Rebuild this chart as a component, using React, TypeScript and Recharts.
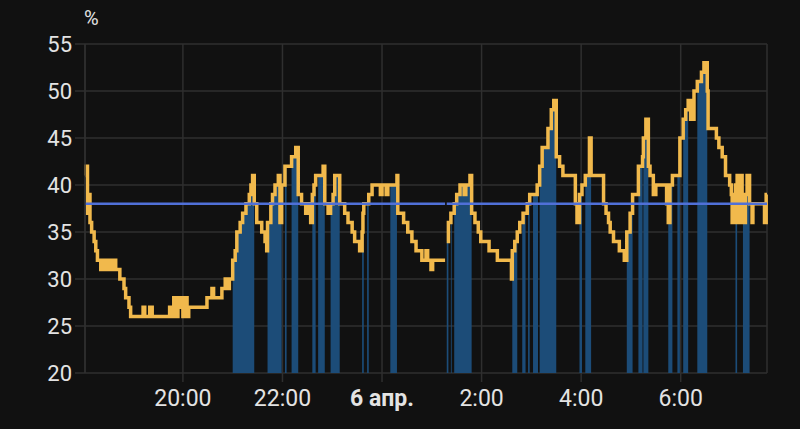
import {
  ComposedChart,
  Line,
  Area,
  XAxis,
  YAxis,
  CartesianGrid,
} from "recharts";

// humidity readings, 5 -> 6 April (times after midnight belong to the 6th)
const times = [
  "18:02", "18:03", "18:05", "18:07", "18:08", "18:10", "18:13", "18:15", "18:17", "18:21",
  "18:24", "18:27", "18:30", "18:33", "18:37", "18:39", "18:44", "18:49", "18:51", "18:55",
  "18:57", "19:12", "19:14", "19:20", "19:23", "19:44", "19:47", "19:49", "19:52", "19:54",
  "19:58", "20:00", "20:02", "20:05", "20:07", "20:29", "20:35", "20:37", "20:47", "20:51",
  "20:53", "20:56", "21:00", "21:03", "21:05", "21:09", "21:12", "21:16", "21:20", "21:22",
  "21:24", "21:26", "21:29", "21:35", "21:39", "21:41", "21:42", "21:46", "21:48", "21:51",
  "21:55", "21:57", "21:59", "22:03", "22:05", "22:11", "22:16", "22:19", "22:23", "22:28",
  "22:32", "22:34", "22:36", "22:38", "22:40", "22:43", "22:49", "22:51", "22:55", "22:58",
  "23:01", "23:03", "23:09", "23:15", "23:19", "23:24", "23:27", "23:33", "23:36", "23:37",
  "23:38", "23:42", "23:44", "23:48", "23:58", "00:00", "00:05", "00:07", "00:10", "00:18",
  "00:19", "00:26", "00:31", "00:36", "00:41", "00:48", "00:53", "00:55", "00:59", "01:01",
  "01:16", "01:17", "01:18", "01:20", "01:23", "01:24", "01:27", "01:30", "01:34", "01:39",
  "01:41", "01:46", "01:48", "01:52", "01:56", "01:59", "02:09", "02:19", "02:36", "02:37",
  "02:40", "02:43", "02:46", "02:49", "02:50", "02:53", "02:55", "02:56", "02:58", "03:02",
  "03:07", "03:08", "03:10", "03:13", "03:20", "03:24", "03:27", "03:30", "03:34", "03:38",
  "03:53", "03:55", "03:58", "04:01", "04:05", "04:10", "04:12", "04:27", "04:30", "04:33",
  "04:35", "04:39", "04:46", "04:52", "04:55", "04:59", "05:02", "05:09", "05:14", "05:15",
  "05:18", "05:21", "05:23", "05:27", "05:30", "05:43", "05:45", "05:47", "05:50", "05:56",
  "05:59", "06:03", "06:06", "06:09", "06:12", "06:16", "06:20", "06:25", "06:28", "06:32",
  "06:33", "06:43", "06:46", "06:50", "06:54", "06:59", "07:01", "07:02", "07:05", "07:06",
  "07:08", "07:09", "07:12", "07:14", "07:15", "07:18", "07:20", "07:23", "07:26", "07:27",
  "07:41", "07:43", "07:44",
];

const humidity: (number | null)[] = [
  41, 42, 37, 39, 36, 35, 34, 33, 32, 31,
  32, 31, 32, 31, 32, 31, 30, 29, 28, 27,
  26, 27, 26, 27, 26, 27, 26, 28, 26, 28,
  27, 26, 28, 26, 27, 28, 29, 28, 29, 30,
  29, 30, 32, 33, 35, 36, 37, 38, 39, 40,
  41, 38, 36, 35, 34, 33, 36, 38, 39, 40,
  41, 36, 40, 42, 42, 43, 44, 39, 38, 37,
  38, 36, 39, 40, 41, 41, 42, 38, 37, 38,
  39, 41, 38, 37, 36, 35, 34, 33, 35, 37,
  38, 38, 39, 40, 39, 40, 39, 40, 40, 41,
  37, 36, 35, 34, 33, 32, 33, 32, 31, 32,
  32, null, 34, 36, 37, 37, 38, 39, 40, 39,
  40, 41, 37, 36, 35, 34, 33, 32, 30, 33,
  34, 35, 36, 36, 37, 37, 38, 38, 39, 39,
  40, 40, 42, 44, 46, 48, 49, 43, 42, 41,
  38, 36, 39, 40, 41, 45, 41, 38, 37, 36,
  35, 34, 33, 32, 35, 37, 39, 42, 43, 45,
  47, 42, 41, 39, 40, 38, 36, 40, 41, 41,
  45, 47, 48, 49, 47, 50, 51, 52, 53, 50,
  46, 45, 44, 43, 41, 40, 39, 36, 39, 40,
  41, 36, 41, 38, 36, 39, 41, 38, 36, 38,
  36, 39, 39,
];

const targetHumidity = 38;

// periods when the humidifier was running (start, end)
const humidifyingPeriods: [string, string][] = [
  ["21:00", "21:26"], ["21:42", "21:59"], ["22:03", "22:05"], ["22:11", "22:19"],
  ["22:36", "22:40"], ["22:43", "22:51"], ["22:58", "23:09"], ["23:36", "23:38"],
  ["23:42", "23:44"], ["00:10", "00:18"], ["01:18", "01:20"], ["01:23", "01:24"],
  ["01:27", "01:48"], ["02:37", "02:43"], ["02:49", "02:53"], ["02:56", "02:58"],
  ["03:02", "03:08"], ["03:10", "03:30"], ["03:58", "04:01"], ["04:05", "04:12"],
  ["04:55", "05:02"], ["05:09", "05:14"], ["05:15", "05:21"], ["05:45", "05:50"],
  ["05:56", "05:59"], ["06:03", "06:09"], ["06:20", "06:32"], ["07:06", "07:08"],
  ["07:15", "07:23"],
];

const yTicks = [20, 25, 30, 35, 40, 45, 50, 55];
const xTickTimes = ["20:00", "22:00", "00:00", "02:00", "04:00", "06:00"];
const midnightLabel = "6 апр.";

const Y_MIN = 20;
const Y_MAX = 55;

const GRID = "#2f2f2f";
const TEXT = "#e3e3e3";

// minutes since 5 April 00:00
function toMinutes(t: string) {
  const [h, m] = t.split(":").map(Number);
  return h * 60 + m + (h < 12 ? 1440 : 0);
}

const periods = humidifyingPeriods.map(([s, e]) => [toMinutes(s), toMinutes(e)]);

const data = times.map((t, i) => {
  const m = toMinutes(t);
  const h = humidity[i];
  const on = periods.some(([s, e]) => m >= s && m < e);
  return {
    m,
    humidity: h,
    target: h === null ? null : targetHumidity,
    running: h !== null && on ? h : Y_MIN,
  };
});

const xTicks = xTickTimes.map(toMinutes);

function TimeTick({ x, y, payload }: any) {
  const m = payload.value as number;
  const midnight = m % 1440 === 0;
  const label = midnight ? midnightLabel : `${Math.floor((m % 1440) / 60)}:00`;
  return (
    <text
      x={x}
      y={y}
      dy="0.71em"
      textAnchor="middle"
      fill={TEXT}
      fontSize={23}
      fontWeight={midnight ? 700 : 400}
    >
      {label}
    </text>
  );
}

export default function App() {
  return (
    <div
      style={{
        position: "relative",
        width: 800,
        height: 429,
        background: "#111111",
        fontFamily: "Roboto, sans-serif",
      }}
    >
      <style>{`body{margin:0;background:#111111;}`}</style>
      <span
        style={{
          position: "absolute",
          left: 84,
          top: 6,
          color: TEXT,
          fontSize: 20,
        }}
      >
        %
      </span>
      <ComposedChart
        width={800}
        height={429}
        data={data}
        margin={{ top: 44, right: 33, bottom: 0, left: 0 }}
      >
        <CartesianGrid stroke={GRID} strokeWidth={1.5} />
        <XAxis
          dataKey="m"
          type="number"
          domain={[data[0].m, data[data.length - 1].m]}
          ticks={xTicks}
          tick={<TimeTick />}
          axisLine={false}
          tickLine={{ stroke: GRID, strokeWidth: 1.5 }}
          tickSize={9}
          tickMargin={8}
          height={56}
        />
        <YAxis
          type="number"
          domain={[Y_MIN, Y_MAX]}
          ticks={yTicks}
          width={85}
          tick={{ fill: TEXT, fontSize: 22 }}
          axisLine={{ stroke: GRID, strokeWidth: 1.5 }}
          tickLine={{ stroke: GRID, strokeWidth: 1.5 }}
          tickSize={10}
          tickMargin={3}
        />
        <Area
          dataKey="running"
          type="stepAfter"
          fill="#1c4c78"
          fillOpacity={1}
          stroke="none"
          baseValue={Y_MIN}
          isAnimationActive={false}
        />
        <Line
          dataKey="humidity"
          type="stepAfter"
          stroke="#f1b94c"
          strokeWidth={3.5}
          dot={false}
          isAnimationActive={false}
        />
        <Line
          dataKey="target"
          type="stepAfter"
          stroke="#5070d8"
          strokeWidth={2.5}
          dot={false}
          isAnimationActive={false}
        />
      </ComposedChart>
    </div>
  );
}
